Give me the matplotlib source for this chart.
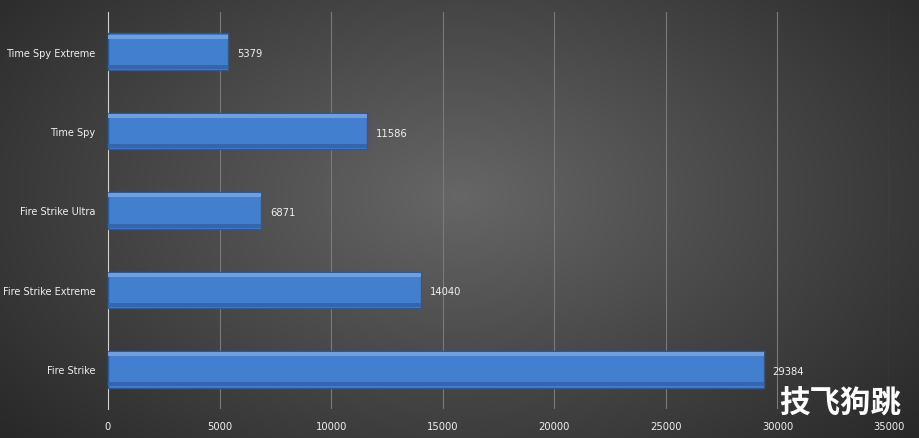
import numpy as np
import matplotlib
matplotlib.use("Agg")
import matplotlib.pyplot as plt

categories = ["Time Spy Extreme", "Time Spy", "Fire Strike Ultra", "Fire Strike Extreme", "Fire Strike"]
scores = [5379, 11586, 6871, 14040, 29384]
xticks = [0, 5000, 10000, 15000, 20000, 25000, 30000, 35000]

W, H = 920, 439
fig = plt.figure(figsize=(W/100, H/100), dpi=100)

bg = fig.add_axes([0, 0, 1, 1])
yy, xx = np.mgrid[0:H, 0:W]
r = np.sqrt(((xx - W*0.5)/(W*0.6))**2 + ((yy - H*0.45)/(H*0.75))**2)
v = np.clip(0.40 - 0.22*r, 0.15, 0.45)
bg.imshow(np.dstack([v, v, v]), aspect="auto", extent=[0, 1, 0, 1])
bg.axis("off")

ax = fig.add_axes([108/W, 1-410/H, (889-108)/W, (410-13)/H])
ax.set_facecolor("none")
y = np.arange(len(categories))
ax.barh(y, scores, height=0.46, color="#437fcf", edgecolor="#2c5896", linewidth=1.0, zorder=3)
ax.barh(y - 0.19, scores, height=0.05, color="#6f9fe0", linewidth=0, zorder=4)
ax.barh(y + 0.19, scores, height=0.05, color="#3566ad", linewidth=0, zorder=4)
for yi, s in zip(y, scores):
    ax.text(s + 400, yi + 0.02, str(s), color="#f0f0f0", fontsize=7.2, va="center", ha="left")
ax.set_yticks(y)
ax.set_yticklabels(categories, color="#f0f0f0", fontsize=7.0)
ax.set_ylim(len(categories) - 0.5, -0.5)
ax.set_xlim(0, 35000)
ax.set_xticks(xticks)
ax.set_xticklabels([str(t) for t in xticks], color="#f0f0f0", fontsize=7.2)
ax.tick_params(axis="y", length=0, pad=9)
ax.tick_params(axis="x", length=0, pad=9)
ax.grid(axis="x", color="#7a7a7a", linewidth=0.8, zorder=0)
for s in ["top", "right", "bottom"]:
    ax.spines[s].set_visible(False)
ax.spines["left"].set_color("#d0d0d0")

fig.text(0.847, 0.08, "技飞狗跳",
         fontfamily=["Noto Sans CJK SC", "Noto Sans CJK JP", "DejaVu Sans"],
         fontweight="bold", fontsize=22, color="white", ha="left", va="center")
fig.savefig("out.png", dpi=100)
